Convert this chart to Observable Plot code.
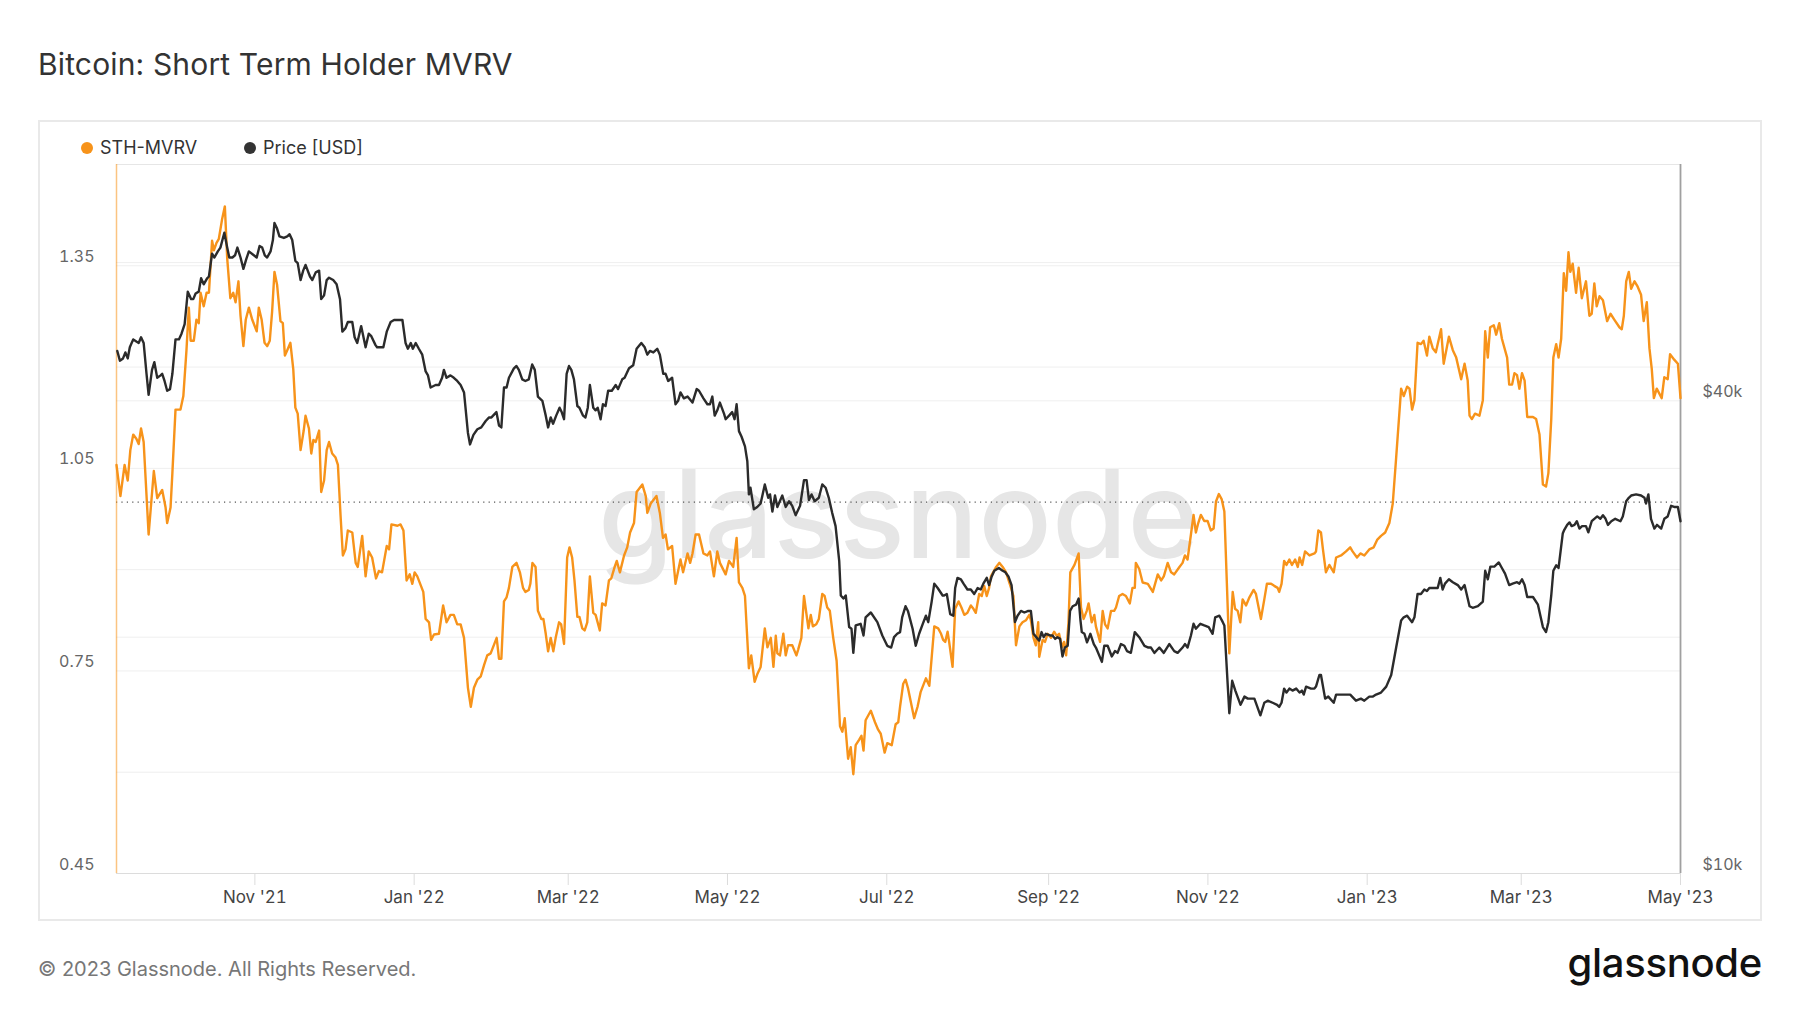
<!DOCTYPE html>
<html>
<head>
<meta charset="utf-8">
<script src="https://cdn.jsdelivr.net/npm/d3@7"></script>
<script src="https://cdn.jsdelivr.net/npm/@observablehq/plot@0.6"></script>
<style>
  html, body { margin: 0; padding: 0; background: #fff; }
  body { font-family: Inter, "Noto Sans", "DejaVu Sans", sans-serif; }
  #page { position: relative; width: 1800px; height: 1013px; overflow: hidden; background: #fff; }
  #title { position: absolute; left: 38px; top: 44px; height: 40px; line-height: 40px; font-size: 30px; font-weight: 400; color: #333; letter-spacing: 0.15px; white-space: nowrap; }
  #frame { position: absolute; left: 38px; top: 120px; width: 1724px; height: 801px; border: 2px solid #e9e9e9; box-sizing: border-box; }
  .leg { position: absolute; top: 138px; height: 20px; line-height: 20px; font-size: 18px; color: #333; white-space: nowrap; display: flex; align-items: center; }
  .dot { width: 12px; height: 12px; border-radius: 50%; margin-right: 7px; }
  #chart { position: absolute; left: 38px; top: 160px; }
  #footer { position: absolute; left: 38px; top: 957px; height: 24px; line-height: 24px; font-size: 20px; color: #777; white-space: nowrap; }
  #logo { position: absolute; right: 38px; top: 943px; height: 40px; line-height: 40px; font-size: 40px; font-weight: 500; color: #111; letter-spacing: -0.3px; white-space: nowrap; }
</style>
</head>
<body>
<div id="page">
  <div id="title">Bitcoin: Short Term Holder MVRV</div>
  <div id="frame"></div>
  <div class="leg" style="left:81px"><span class="dot" style="background:#f7931a"></span>STH-MVRV</div>
  <div class="leg" style="left:244px"><span class="dot" style="background:#333"></span>Price [USD]</div>
  <div id="chart"></div>
  <div id="footer">© 2023 Glassnode. All Rights Reserved.</div>
  <div id="logo">glassnode</div>
</div>
<script>
// ---- Data (days since 2021-09-09, UTC) ----
const baseDate = Date.UTC(2021, 8, 9);
const endDate = Date.UTC(2023, 4, 1);

const mvrvDay = [0,1.5,3.1,4.3,5.3,6.4,7.6,8.5,9.4,10.4,12.3,14.3,15.6,17.5,18.8,19.4,20.7,21.4,22.6,24.5,25.6,26.8,27.7,28.4,29.6,30.6,31.5,32.2,33.4,34.5,35.4,36.6,37.3,38.3,39.2,40.4,41.5,42.4,43.6,44.7,45.6,46.7,47.5,48.6,49.5,50.7,52.0,53.7,54.5,55.6,56.7,57.7,58.7,59.6,60.5,61.5,62.8,63.7,64.5,65.4,66.6,67.7,68.5,69.4,70.5,71.7,72.4,73.7,74.6,75.4,76.3,77.6,78.4,79.5,80.5,81.4,82.6,83.9,84.8,85.8,86.7,87.7,88.6,90.3,91.6,92.4,94.1,95.4,96.6,97.9,99.4,100.5,101.7,103.5,104.4,105.3,107.6,108.8,109.9,111.1,112.3,113.3,114.2,115.2,117.5,118.4,119.7,120.5,121.6,123.5,125.1,126.4,127.9,129.2,130.5,131.8,133.1,134.6,135.7,136.9,138.2,139.5,140.8,142.0,143.3,145.6,146.5,147.4,148.4,149.4,150.3,151.6,153.2,
154.5,155.7,156.6,157.9,158.5,159.3,160.5,161.4,162.7,163.5,164.4,165.3,166.3,167.3,168.2,169.5,170.3,171.4,172.6,173.5,174.5,175.4,176.5,177.3,178.4,179.3,180.3,181.3,182.6,183.5,185.1,186.0,187.3,188.6,189.5,190.8,191.6,192.8,194.4,195.6,196.7,198.2,199.2,201.4,202.7,203.3,204.6,206.8,208.1,209.3,210.3,211.2,212.8,214.1,215.1,216.0,217.0,218.7,219.7,220.6,221.8,223.1,224.8,226.3,227.3,228.8,230.1,231.1,233.3,234.6,236.2,237.5,238.4,239.7,240.7,242.2,243.1,244.4,245.4,246.7,248.3,249.3,250.6,251.6,252.5,253.1,254.1,255.4,256.3,257.2,258.8,260.4,261.1,262.3,263.3,265.0,265.9,266.7,268.0,269.0,270.3,271.2,272.2,273.2,274.5,275.8,277.1,278.0,278.9,280.2,281.2,282.2,283.1,284.4,285.3,286.1,286.9,288.9,290.5,291.7,292.7,294.2,295.2,296.9,298.4,299.4,300.1,301.3,302.2,303.1,305.5,306.8,308.0,
310.0,311.3,313.2,314.7,315.8,316.6,317.4,318.3,318.9,320.2,321.2,322.5,323.6,324.7,325.9,327.2,328.2,329.1,330.4,331.4,332.3,333.3,334.2,334.9,336.9,338.1,339.4,340.7,342.6,343.5,344.5,345.8,347.0,348.3,349.6,350.2,351.2,352.1,353.0,353.4,354.7,355.6,356.6,357.9,359.1,360.1,361.0,362.1,362.9,363.7,364.6,365.3,366.9,368.5,369.4,370.4,371.6,372.3,373.5,374.5,375.1,376.7,377.7,378.6,379.6,380.9,382.1,382.8,384.0,385.3,386.6,388.1,389.1,390.0,390.4,391.7,393.0,395.0,396.9,398.8,400.1,401.1,402.6,403.9,405.1,407.1,408.3,409.2,410.2,411.5,412.5,413.4,414.3,415.3,416.6,417.9,419.1,420.2,421.1,422.2,423.3,424.3,426.2,427.5,428.4,429.4,430.4,431.3,432.6,433.9,435.5,436.4,438.3,439.6,440.6,442.2,443.4,444.7,445.3,446.2,447.2,448.1,449.2,450.2,451.4,452.4,453.1,454.1,455.2,456.9,458.8,459.4,460.3,461.3,
462.0,463.2,464.5,466.2,467.1,469.0,470.9,472.5,473.4,475.1,476.4,477.9,479.8,481.5,482.8,484.3,485.9,487.5,488.8,490.1,492.0,493.0,494.3,495.2,496.2,497.1,498.3,499.6,500.6,501.9,502.8,504.1,505.3,507.3,508.3,510.3,511.8,513.1,515.0,516.3,517.5,518.2,519.1,520.3,522.0,523.3,524.2,525.2,526.1,527.5,528.4,529.6,530.6,532.6,533.4,534.5,535.4,536.4,537.3,538.3,539.3,540.3,542.5,543.7,545.0,546.3,547.5,548.4,549.5,550.3,551.4,552.3,553.3,554.3,555.2,556.1,556.8,557.7,559.0,560.0,561.2,562.8,564.1,565.0,566.0,566.9,568.0,569.3,570.9,572.2,573.7,575.6,576.5,577.3,578.2,579.2,580.1,581.4,582.6,583.9,584.9,586.1,587.1,588.0,588.8,589.9,591.8,592.8,594.1,595.0,596.6,598.0,599.0];

const mvrvValue = [1.055,1.009,1.055,1.032,1.077,1.100,1.094,1.086,1.109,1.089,0.952,1.046,1.006,1.018,0.992,0.969,0.992,1.043,1.137,1.137,1.157,1.225,1.288,1.239,1.239,1.270,1.265,1.310,1.290,1.310,1.310,1.387,1.373,1.384,1.390,1.418,1.438,1.361,1.302,1.310,1.296,1.327,1.276,1.231,1.270,1.288,1.270,1.253,1.288,1.270,1.236,1.231,1.239,1.282,1.341,1.322,1.268,1.265,1.217,1.225,1.236,1.197,1.140,1.131,1.077,1.106,1.128,1.109,1.072,1.092,1.089,1.106,1.015,1.032,1.077,1.089,1.072,1.066,1.055,0.981,0.921,0.930,0.958,0.955,0.910,0.904,0.950,0.890,0.927,0.918,0.887,0.898,0.896,0.935,0.930,0.967,0.965,0.967,0.958,0.884,0.893,0.879,0.896,0.890,0.867,0.827,0.822,0.796,0.804,0.805,0.847,0.822,0.833,0.833,0.819,0.819,0.799,0.725,0.697,0.725,0.737,0.742,0.759,0.773,0.776,0.799,0.768,0.768,0.853,0.859,0.873,0.904,0.910,
0.896,0.873,0.867,0.870,0.879,0.910,0.904,0.839,0.827,0.827,0.805,0.779,0.799,0.779,0.799,0.822,0.819,0.790,0.918,0.933,0.918,0.884,0.830,0.830,0.813,0.810,0.822,0.890,0.836,0.833,0.810,0.850,0.847,0.884,0.887,0.904,0.913,0.896,0.921,0.933,0.955,0.969,1.015,1.026,1.009,0.984,0.998,1.009,0.984,0.947,0.952,0.930,0.935,0.879,0.898,0.915,0.896,0.924,0.910,0.924,0.952,0.952,0.924,0.921,0.927,0.890,0.927,0.910,0.893,0.913,0.904,0.947,0.881,0.873,0.861,0.754,0.773,0.734,0.745,0.756,0.813,0.785,0.799,0.756,0.802,0.776,0.773,0.805,0.773,0.788,0.788,0.773,0.782,0.799,0.861,0.813,0.833,0.816,0.819,0.827,0.864,0.861,0.844,0.839,0.799,0.765,0.668,0.660,0.680,0.620,0.637,0.597,0.640,0.648,0.654,0.632,0.677,0.691,0.674,0.663,0.657,0.629,0.643,0.640,0.671,0.674,0.697,0.731,0.737,0.725,0.680,0.697,0.719,
0.739,0.728,0.816,0.813,0.805,0.796,0.793,0.808,0.793,0.756,0.842,0.853,0.844,0.833,0.836,0.847,0.842,0.836,0.864,0.861,0.876,0.861,0.873,0.890,0.904,0.910,0.904,0.896,0.873,0.861,0.788,0.816,0.822,0.825,0.833,0.825,0.799,0.788,0.822,0.771,0.796,0.793,0.805,0.799,0.808,0.802,0.805,0.785,0.793,0.773,0.822,0.896,0.907,0.924,0.844,0.827,0.839,0.850,0.822,0.833,0.816,0.793,0.839,0.819,0.813,0.839,0.839,0.844,0.861,0.864,0.861,0.850,0.873,0.873,0.910,0.901,0.881,0.879,0.867,0.893,0.884,0.890,0.910,0.896,0.893,0.904,0.910,0.921,0.915,0.952,0.981,0.955,0.969,0.981,0.972,0.972,0.958,0.961,1.001,1.012,1.004,0.986,0.776,0.867,0.842,0.839,0.822,0.856,0.847,0.859,0.870,0.864,0.827,0.856,0.879,0.879,0.876,0.873,0.867,0.879,0.913,0.907,0.915,0.907,0.915,0.904,0.918,0.907,0.927,0.921,0.924,0.927,0.958,0.955,
0.932,0.896,0.907,0.896,0.918,0.921,0.927,0.933,0.927,0.918,0.924,0.921,0.930,0.933,0.944,0.950,0.955,0.969,0.998,1.066,1.168,1.157,1.171,1.168,1.137,1.151,1.236,1.234,1.239,1.217,1.245,1.228,1.222,1.256,1.205,1.245,1.225,1.214,1.182,1.205,1.180,1.128,1.123,1.131,1.128,1.151,1.253,1.214,1.259,1.262,1.248,1.265,1.242,1.214,1.174,1.174,1.191,1.188,1.168,1.191,1.180,1.126,1.126,1.123,1.100,1.026,1.023,1.043,1.123,1.214,1.234,1.214,1.242,1.339,1.313,1.370,1.341,1.353,1.310,1.347,1.302,1.327,1.276,1.279,1.324,1.290,1.305,1.299,1.268,1.279,1.270,1.259,1.256,1.276,1.327,1.341,1.316,1.327,1.319,1.307,1.268,1.296,1.228,1.197,1.154,1.168,1.154,1.185,1.182,1.219,1.211,1.205,1.154];

const priceDay = [0.3,1.3,2.5,3.4,4.3,5.1,6.4,7.6,8.5,9.4,10.4,11.5,12.3,13.6,14.5,15.6,16.9,17.5,18.4,19.4,20.5,21.4,22.6,23.9,24.9,26.1,27.3,28.6,29.4,30.3,31.5,32.4,33.4,34.7,35.4,36.6,37.5,38.8,39.8,41.3,42.4,43.2,44.4,45.4,46.3,47.5,48.6,49.7,50.7,52.6,53.7,54.8,55.8,56.8,57.7,59.0,59.9,60.5,61.5,62.4,64.1,65.4,66.3,67.3,68.5,69.4,70.5,71.5,72.4,74.1,75.0,76.3,77.6,78.4,79.5,80.5,81.4,83.0,84.3,85.6,86.5,87.7,88.6,90.3,91.2,92.2,93.7,95.4,96.6,97.5,99.2,99.8,102.2,103.5,105.0,106.3,109.5,110.7,111.6,112.7,113.5,114.6,115.8,117.1,118.4,119.3,120.3,122.2,123.5,124.7,125.4,126.4,127.9,129.2,130.5,131.8,133.1,134.6,135.4,136.7,138.2,139.7,141.4,142.7,143.6,145.5,146.5,147.4,148.4,149.4,150.3,152.2,153.2,154.1,
155.4,156.6,157.9,159.2,160.2,161.4,163.1,164.4,165.3,166.3,167.2,168.4,169.7,170.5,171.4,172.4,173.3,174.2,175.2,176.5,177.3,178.7,179.6,180.5,181.3,182.6,183.5,184.3,185.4,186.3,187.3,188.3,189.7,191.2,192.1,193.7,194.6,196.3,197.9,199.2,201.0,202.3,203.3,204.3,205.6,207.1,208.1,209.4,210.3,211.3,212.8,214.1,215.1,216.0,217.3,218.7,220.6,222.2,223.1,224.8,226.3,227.3,228.2,229.1,230.1,231.1,232.7,233.3,234.6,235.8,236.7,237.5,238.4,239.4,240.7,241.6,242.2,242.8,244.1,245.4,246.7,248.3,249.6,250.3,251.2,252.2,253.1,255.0,256.3,257.6,258.8,260.1,261.8,263.3,264.3,265.2,266.2,267.4,269.0,270.3,271.6,272.8,274.1,275.4,276.8,277.4,278.4,279.3,280.6,281.5,282.2,283.1,285.0,286.1,286.9,288.9,291.4,293.3,295.2,296.7,297.8,299.0,300.1,300.9,302.2,303.1,304.9,306.1,307.4,
308.8,310.0,310.9,312.2,313.2,314.5,316.4,317.0,318.0,319.3,320.5,321.2,322.1,323.4,324.4,325.9,327.2,328.5,329.8,331.0,332.0,333.3,334.2,335.2,336.2,337.9,339.4,340.4,341.6,342.8,344.1,345.1,346.4,347.7,349.2,350.2,351.2,352.8,353.4,354.3,355.1,355.9,357.6,358.5,359.5,360.4,361.4,362.3,363.2,364.3,365.2,366.2,367.5,368.5,369.2,369.7,370.7,371.7,373.0,374.3,375.1,377.4,378.3,379.6,381.2,382.4,383.4,384.7,386.0,387.0,388.5,390.0,391.7,393.7,395.2,396.2,397.5,399.4,401.1,403.2,405.1,406.4,408.3,409.2,410.2,411.5,412.5,413.4,415.1,416.6,418.3,419.8,420.8,422.4,423.7,424.3,426.2,427.3,428.5,430.5,432.0,433.3,435.8,438.1,439.6,440.9,442.8,444.5,445.3,446.2,447.2,448.1,449.2,450.4,451.8,453.1,454.0,454.7,455.6,457.5,458.8,459.4,460.7,461.3,
462.9,464.1,466.2,467.1,469.0,470.9,472.5,474.7,476.6,477.9,479.8,481.2,482.4,484.3,486.3,488.2,490.1,492.0,493.0,494.3,496.2,497.1,498.3,499.6,500.9,501.9,502.8,504.7,506.0,507.0,507.9,508.8,510.3,511.8,513.7,515.0,516.3,518.2,519.4,521.4,523.3,524.2,525.2,526.2,527.7,529.4,530.6,531.8,533.4,534.7,536.4,537.3,538.3,539.3,540.3,542.5,544.4,546.3,547.5,548.4,549.5,550.3,551.4,552.3,553.9,554.5,555.6,556.5,557.3,558.4,559.3,560.3,561.3,562.8,563.7,565.0,566.0,567.1,568.3,569.3,570.3,571.2,572.5,574.0,576.0,576.9,578.2,579.2,580.1,582.0,583.9,585.2,585.8,586.7,587.7,589.0,590.0,591.6,592.8,594.1,595.4,596.6,598.0,599.0];

// Price in thousands of USD
const priceK = [46.3,45.0,45.3,46.1,45.3,46.8,47.9,47.6,47.4,48.2,47.4,43.3,40.7,43.8,44.8,42.8,43.1,43.3,42.4,41.2,41.4,43.3,47.9,47.9,48.7,50.1,55.1,53.9,53.9,54.8,55.1,57.3,56.3,57.3,57.6,61.6,60.9,62.0,62.7,65.5,62.7,60.9,60.9,61.3,62.7,60.9,58.9,60.6,62.0,61.3,60.9,63.0,62.7,61.3,60.9,62.0,64.1,67.4,66.3,64.8,64.5,64.8,65.2,64.1,60.3,59.9,57.0,58.6,59.6,57.6,57.0,58.3,58.6,53.9,54.5,57.0,57.4,57.0,56.3,53.9,49.0,49.5,50.4,50.4,48.2,47.4,49.8,46.8,48.7,48.4,47.1,46.8,46.8,49.0,50.4,50.7,50.7,47.4,46.6,47.4,46.6,47.4,46.6,45.8,43.6,43.1,41.6,41.9,41.9,42.8,43.8,42.8,43.1,42.8,42.4,41.9,41.0,36.4,35.2,36.2,36.8,37.0,37.7,38.1,38.1,38.7,37.2,37.0,41.6,41.6,42.8,44.0,44.3,43.8,
42.6,42.4,42.6,44.5,43.8,40.5,40.0,38.3,37.0,38.1,37.4,38.3,39.2,38.7,37.9,43.3,44.3,43.8,42.6,39.4,39.2,38.3,38.1,39.2,41.9,39.2,38.9,39.2,37.9,39.6,39.4,41.2,41.2,41.9,41.4,42.6,42.8,44.0,44.4,46.6,47.4,46.8,45.8,46.3,46.1,46.6,45.8,43.3,43.3,42.4,42.8,39.6,40.0,41.0,40.3,40.5,39.8,41.4,41.2,40.3,39.6,39.6,40.5,38.3,38.9,39.8,38.5,37.9,38.3,38.7,37.9,39.6,36.6,36.0,35.0,33.5,30.4,31.0,29.1,29.3,29.6,31.3,30.1,30.4,28.9,30.3,29.3,30.3,29.3,29.8,29.4,28.6,29.4,31.7,31.7,29.9,30.4,29.8,30.1,31.3,31.0,30.1,28.8,27.7,25.0,22.6,22.4,22.6,20.6,20.5,19.1,20.7,20.8,20.1,21.2,21.5,20.9,20.1,19.5,19.4,20.0,20.2,20.3,21.2,21.9,21.6,20.5,19.5,20.2,
20.8,21.3,20.9,22.2,23.4,23.1,22.6,22.6,22.7,21.4,21.3,23.1,23.8,23.7,23.4,23.0,23.0,22.7,23.1,23.0,23.4,23.8,23.3,23.9,24.3,24.5,24.3,24.2,23.9,23.3,20.9,21.3,21.6,21.5,21.6,21.6,20.2,19.9,19.8,20.3,20.0,20.2,20.1,20.1,19.9,20.0,19.9,18.9,19.4,19.5,21.6,21.9,22.0,22.4,21.0,20.3,20.2,19.7,20.2,19.6,19.4,18.6,19.5,19.5,18.9,19.2,19.1,19.6,19.5,19.2,19.1,20.3,20.0,19.5,19.4,19.4,19.1,19.4,19.1,19.6,19.2,19.1,19.4,19.6,19.4,20.1,20.8,20.5,20.8,20.7,20.6,20.2,21.2,21.3,20.9,20.7,16.0,17.6,17.1,16.4,16.8,16.7,16.7,15.9,16.5,16.6,16.5,16.4,16.3,16.5,17.2,17.0,17.2,17.1,17.2,17.0,17.1,16.9,17.3,17.2,17.2,17.3,17.9,17.9,
16.7,16.8,16.5,16.9,16.9,16.9,16.9,16.6,16.7,16.6,16.8,16.8,16.9,17.0,17.3,17.9,19.4,21.0,21.2,21.3,20.9,21.2,22.7,22.7,23.0,22.9,23.1,23.1,23.1,23.8,23.0,23.4,23.7,23.5,23.3,23.0,23.3,21.9,21.8,21.9,22.2,24.3,23.7,24.6,24.6,24.9,24.5,24.1,23.3,23.4,23.5,23.4,23.7,23.3,22.5,22.5,22.0,20.6,20.3,20.9,22.6,24.3,24.7,24.5,27.1,27.4,27.8,28.0,27.7,27.8,28.1,27.5,27.7,27.7,27.2,28.1,28.3,28.5,28.3,28.6,28.3,27.8,28.1,28.3,28.1,28.5,29.8,30.1,30.3,30.4,30.3,30.1,29.6,30.4,28.3,27.5,27.8,27.5,28.3,28.5,29.4,29.3,29.3,28.1];

// Axes
const leftGrid = [0.45, 0.6, 0.75, 0.9, 1.05, 1.2, 1.35];
const leftLabels = [0.45, 0.75, 1.05, 1.35];
const priceGridK = [10, 20, 40, 60];
const priceLabelsK = [10, 40];
const priceDomainK = [10, 80];
const mvrvDomain = [0.45, 1.5];
const xTickDates = ["2021-11-01","2022-01-01","2022-03-01","2022-05-01","2022-07-01","2022-09-01","2022-11-01","2023-01-01","2023-03-01","2023-05-01"];

// ---- Build ----
const dayMs = 86400000;
const toDate = d => new Date(baseDate + d * dayMs);
// log price axis mapped onto the MVRV scale (right axis)
const lp0 = Math.log10(priceDomainK[0]), lp1 = Math.log10(priceDomainK[1]);
const priceToY = p => mvrvDomain[0] + (Math.log10(p) - lp0) / (lp1 - lp0) * (mvrvDomain[1] - mvrvDomain[0]);
const yToPrice = y => Math.pow(10, lp0 + (y - mvrvDomain[0]) / (mvrvDomain[1] - mvrvDomain[0]) * (lp1 - lp0));

const mvrv = mvrvDay.map((d, i) => ({date: toDate(d), v: mvrvValue[i]}));
const price = priceDay.map((d, i) => ({date: toDate(d), y: priceToY(priceK[i])}));
const xTicks = xTickDates.map(s => new Date(s + "T00:00:00Z"));
const x0 = new Date(baseDate), x1 = new Date(endDate);

const chart = Plot.plot({
  width: 1724,
  height: 761,
  marginLeft: 78,
  marginRight: 82,
  marginTop: 4,
  marginBottom: 48,
  style: {fontFamily: "Inter, 'Noto Sans', sans-serif", background: "transparent", overflow: "visible"},
  x: {type: "utc", domain: [x0, x1]},
  y: {domain: mvrvDomain},
  marks: [
    Plot.ruleY(leftGrid, {stroke: "#efefef", strokeWidth: 1}),
    Plot.ruleY(priceGridK.map(priceToY), {stroke: "#efefef", strokeWidth: 1}),
    Plot.text(["glassnode"], {frameAnchor: "middle", fontSize: 122, fontWeight: 500, fill: "#e6e6e6", dy: 0}),
    Plot.ruleY([1], {stroke: "#555", strokeWidth: 1.2, strokeDasharray: "1.2,4.2"}),
    Plot.ruleY([mvrvDomain[1]], {stroke: "#e6e6e6", strokeWidth: 1.2}),
    Plot.ruleY([mvrvDomain[0]], {stroke: "#dcdcdc", strokeWidth: 1.2}),
    Plot.ruleX([x0], {stroke: "#f7931a", strokeOpacity: 0.55, strokeWidth: 1.5}),
    Plot.ruleX([x1], {stroke: "#a0a0a0", strokeWidth: 1.8}),
    Plot.lineY(mvrv, {x: "date", y: "v", stroke: "#f7931a", strokeWidth: 2.4, curve: "linear"}),
    Plot.lineY(price, {x: "date", y: "y", stroke: "#2b2b2b", strokeWidth: 2.4, curve: "linear"}),
    Plot.axisY(leftLabels, {anchor: "left", tickSize: 0, tickPadding: 22, dy: -9, fontSize: 16, fill: "#666", label: null, tickFormat: d => d.toFixed(2)}),
    Plot.axisY(priceLabelsK.map(priceToY), {anchor: "right", tickSize: 0, tickPadding: 22, dy: -9, fontSize: 16, fill: "#666", label: null, tickFormat: d => "$" + Math.round(yToPrice(d)) + "k"}),
    Plot.axisX(xTicks, {tickSize: 12, tickPadding: 5, stroke: "#dcdcdc", fill: "#444", fontSize: 17, label: null, tickFormat: d3.utcFormat("%b '%y")})
  ]
});
document.getElementById("chart").appendChild(chart);
</script>
</body>
</html>
